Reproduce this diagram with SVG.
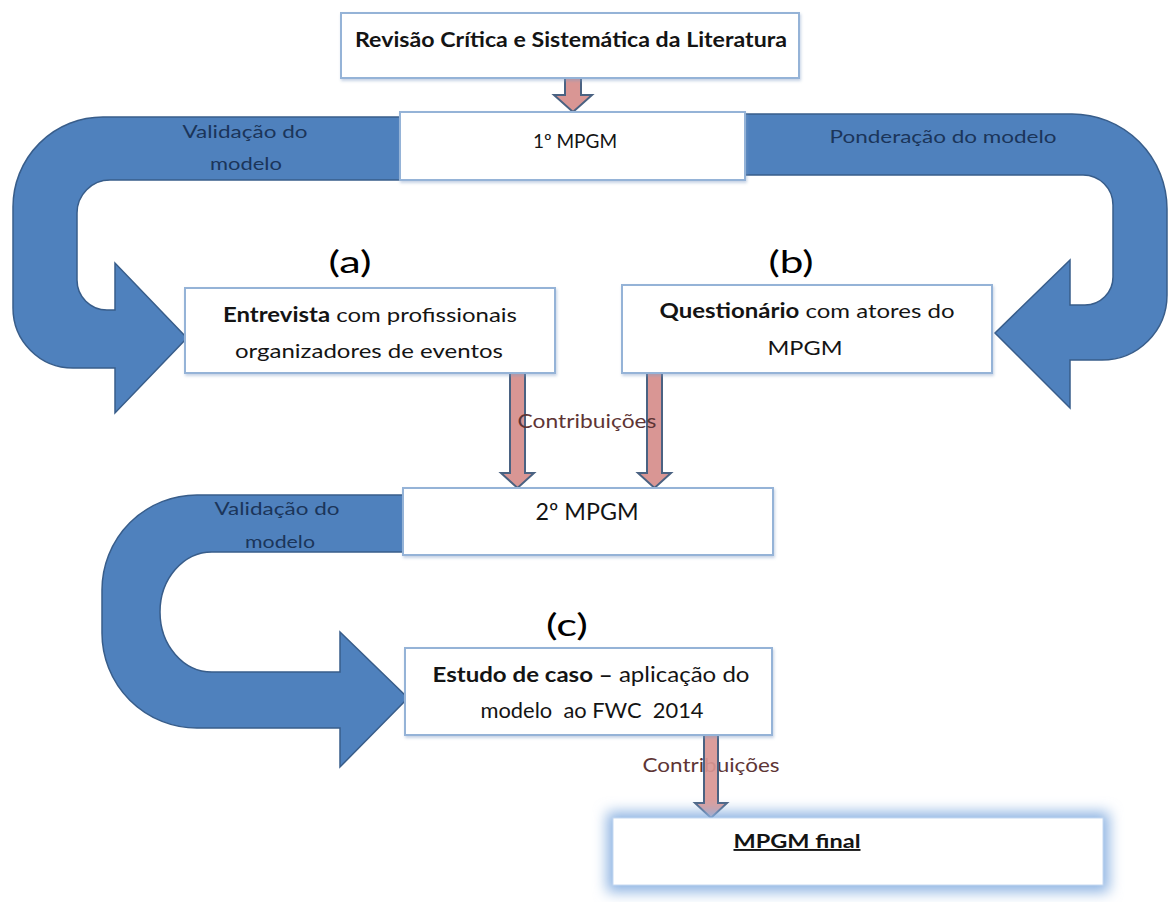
<svg xmlns="http://www.w3.org/2000/svg" width="1169" height="902" viewBox="0 0 1169 902">
  <style>
    .box { fill: #ffffff; stroke: #95b3d7; stroke-width: 2; }
    .uturn { fill: #4f81bd; stroke: #385d8a; stroke-width: 1.5; }
    .down { fill: #d99694; stroke: #4a6282; stroke-width: 2; }
    .t { font-family: Lato, "Liberation Sans", sans-serif; fill: #141414; white-space: pre; }
    .b { font-weight: bold; }
    .band { font-family: Lato, "Liberation Sans", sans-serif; fill: #1b355a; font-size: 17px; }
    .contrib { font-family: Lato, "Liberation Sans", sans-serif; fill: #5e3535; font-size: 19px; }
    .tag { font-family: Lato, "Liberation Sans", sans-serif; fill: #000000; font-size: 30px; }
  </style>
  <defs>
    <filter id="shadow" x="-10%" y="-20%" width="120%" height="150%">
      <feGaussianBlur in="SourceAlpha" stdDeviation="1.5"/>
      <feOffset dx="1" dy="2" result="off"/>
      <feFlood flood-color="#7f9cc4" flood-opacity="0.45"/>
      <feComposite in2="off" operator="in"/>
      <feMerge><feMergeNode/><feMergeNode in="SourceGraphic"/></feMerge>
    </filter>
    <filter id="glow" x="-20%" y="-60%" width="140%" height="220%">
      <feGaussianBlur stdDeviation="7"/>
    </filter>
  </defs>

  <rect width="1169" height="902" fill="#ffffff"/>

  <!-- curved arrows -->
  <g id="loops">
    <path id="loop-left" class="uturn" d="M 405,117 L 103,117 A 90,90 0 0 0 13,207 L 13,308 A 60,60 0 0 0 73,368 L 115,368 L 115,413 L 187,338 L 115,263 L 115,310 L 107,310 A 30,30 0 0 1 77,280 L 77,213 A 33,33 0 0 1 110,180 L 405,180 Z"/>
    <path id="loop-right" class="uturn" d="M 740,114 L 1072,114 A 95,95 0 0 1 1167,209 L 1167,295 A 65,65 0 0 1 1102,360 L 1070,360 L 1070,408 L 995,333 L 1070,260 L 1070,305 L 1085,305 A 28,28 0 0 0 1113,277 L 1113,205 A 30,30 0 0 0 1083,175 L 740,175 Z"/>
    <path id="loop-bottom" class="uturn" d="M 408,495 L 197,495 A 95,95 0 0 0 102,590 L 102,633 A 95,95 0 0 0 197,728 L 340,728 L 340,767 L 408,698 L 340,632 L 340,672 L 212,672 A 52,60 0 0 1 160,612 A 52,60 0 0 1 212,552 L 408,552 Z"/>
    <text class="band" x="245" y="138" text-anchor="middle" textLength="125" lengthAdjust="spacingAndGlyphs">Validação do</text>
    <text class="band" x="246" y="170" text-anchor="middle" textLength="72" lengthAdjust="spacingAndGlyphs">modelo</text>
    <text class="band" x="943" y="143" text-anchor="middle" textLength="227" lengthAdjust="spacingAndGlyphs">Ponderação do modelo</text>
    <text class="band" x="277" y="515" text-anchor="middle" textLength="125" lengthAdjust="spacingAndGlyphs">Validação do</text>
    <text class="band" x="280" y="548" text-anchor="middle" textLength="70" lengthAdjust="spacingAndGlyphs">modelo</text>
  </g>

  <!-- straight connectors -->
  <g id="connectors">
    <path class="down" d="M 565,78 L 581,78 L 581,95 L 592,95 L 573,112 L 554,95 L 565,95 Z"/>
    <path class="down" d="M 510,373 L 525,373 L 525,473 L 534,473 L 517.5,488 L 501,473 L 510,473 Z"/>
    <path class="down" d="M 647,373 L 662,373 L 662,473 L 671,473 L 654.5,488 L 638,473 L 647,473 Z"/>
    <text class="contrib" x="587" y="428" text-anchor="middle" textLength="139" lengthAdjust="spacingAndGlyphs">Contribuições</text>
    <text class="contrib" x="711" y="772" text-anchor="middle" textLength="137" lengthAdjust="spacingAndGlyphs">Contribuições</text>
    <path class="down" d="M 704,735 L 718,735 L 718,803 L 727,803 L 711,818 L 695,803 L 704,803 Z" fill-opacity="0.92"/>
  </g>

  <g id="node-revisao">
    <rect class="box" x="341" y="13" width="458" height="65" filter="url(#shadow)"/>
    <text class="t b" x="571" y="47" font-size="20" text-anchor="middle" textLength="432" lengthAdjust="spacingAndGlyphs">Revisão Crítica e Sistemática da Literatura</text>
  </g>

  <g id="node-mpgm1">
    <rect class="box" x="400" y="112" width="345" height="68" filter="url(#shadow)"/>
    <text class="t" x="575" y="148" font-size="19" text-anchor="middle">1º MPGM</text>
  </g>

  <g id="node-entrevista">
    <text class="tag" x="350" y="273" text-anchor="middle" textLength="43" lengthAdjust="spacingAndGlyphs">(a)</text>
    <rect class="box" x="185" y="288" width="370" height="85" filter="url(#shadow)"/>
    <text class="t" x="370" y="322" font-size="20" text-anchor="middle" textLength="294" lengthAdjust="spacingAndGlyphs"><tspan class="b">Entrevista</tspan> com profissionais</text>
    <text class="t" x="369" y="358" font-size="20" text-anchor="middle" textLength="268" lengthAdjust="spacingAndGlyphs">organizadores de eventos</text>
  </g>

  <g id="node-questionario">
    <text class="tag" x="791" y="273" text-anchor="middle" textLength="45" lengthAdjust="spacingAndGlyphs">(b)</text>
    <rect class="box" x="622" y="285" width="370" height="88" filter="url(#shadow)"/>
    <text class="t" x="807" y="318" font-size="20" text-anchor="middle" textLength="295" lengthAdjust="spacingAndGlyphs"><tspan class="b">Questionário</tspan> com atores do</text>
    <text class="t" x="805" y="355" font-size="20" text-anchor="middle" textLength="75" lengthAdjust="spacingAndGlyphs">MPGM</text>
  </g>

  <g id="node-mpgm2">
    <rect class="box" x="403" y="488" width="370" height="67" filter="url(#shadow)"/>
    <text class="t" x="587" y="520" font-size="23" text-anchor="middle" textLength="103" lengthAdjust="spacingAndGlyphs">2º MPGM</text>
  </g>

  <g id="node-estudo">
    <text class="tag" x="567" y="636" text-anchor="middle" textLength="42" lengthAdjust="spacingAndGlyphs">(c)</text>
    <rect class="box" x="405" y="648" width="367" height="87" filter="url(#shadow)"/>
    <text class="t" x="591" y="682" font-size="21" text-anchor="middle" textLength="317" lengthAdjust="spacingAndGlyphs"><tspan class="b">Estudo de caso –</tspan> aplicação do</text>
    <text class="t" x="592" y="718" font-size="21" text-anchor="middle" textLength="223" lengthAdjust="spacingAndGlyphs">modelo  ao FWC  2014</text>
  </g>

  <g id="node-final">
    <rect x="607" y="812" width="502" height="80" fill="#8db3e2" filter="url(#glow)"/>
    <rect x="613" y="818" width="490" height="67" fill="#ffffff" stroke="#c6d9f1" stroke-width="1"/>
    <text class="t b" x="797" y="848" font-size="19" text-anchor="middle" textLength="127" lengthAdjust="spacingAndGlyphs" text-decoration="underline">MPGM final</text>
  </g>
</svg>
